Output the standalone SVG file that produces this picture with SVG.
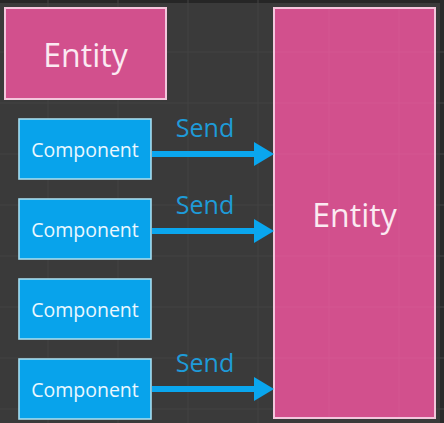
<svg xmlns="http://www.w3.org/2000/svg" width="444" height="423" viewBox="0 0 444 423">
  <style>
    .grid line { stroke: #424242; stroke-width: 1; }
    .entity rect { fill: #d2508d; stroke: #f3c6dc; stroke-width: 2; }
    .entity text { fill: #fbeaf2; font-family: "Open Sans", "Noto Sans", sans-serif; font-size: 32px; text-anchor: middle; }
    .comp rect { fill: #08a3eb; stroke: #a6dcef; stroke-width: 1.6; }
    .comp text { fill: #eaf8ff; font-family: "Open Sans", "Noto Sans", sans-serif; font-size: 19.5px; text-anchor: middle; }
    .conn line { stroke: #0aa6ee; stroke-width: 6; }
    .conn text { fill: #1e9bd8; font-family: "Open Sans", "Noto Sans", sans-serif; font-size: 25px; text-anchor: middle; }
  </style>
  <defs>
    <marker id="head" markerUnits="userSpaceOnUse" markerWidth="20" markerHeight="24" refX="0" refY="12" orient="auto">
      <path d="M0,0 L20,12 L0,24 Z" fill="#0aa6ee"/>
    </marker>
  </defs>
  <rect x="0" y="0" width="444" height="423" fill="#3a3a3a"/>
  <rect x="0" y="0" width="444" height="3" fill="#262626"/>
  <rect x="440" y="0" width="4" height="423" fill="#2a2a2a"/>
  <g class="grid">
    <line x1="48" y1="0" x2="48" y2="423"/>
    <line x1="118" y1="0" x2="118" y2="423"/>
    <line x1="188" y1="0" x2="188" y2="423"/>
    <line x1="258" y1="0" x2="258" y2="423"/>
    <line x1="0" y1="52" x2="444" y2="52"/>
    <line x1="0" y1="103" x2="444" y2="103"/>
    <line x1="0" y1="154" x2="444" y2="154"/>
    <line x1="0" y1="205" x2="444" y2="205"/>
    <line x1="0" y1="256" x2="444" y2="256"/>
    <line x1="0" y1="307" x2="444" y2="307"/>
    <line x1="0" y1="358" x2="444" y2="358"/>
    <line x1="0" y1="409" x2="444" y2="409"/>
  </g>
  <g id="entity-small" class="entity">
    <rect x="5" y="8" width="161" height="91"/>
    <text x="85.5" y="67">Entity</text>
  </g>
  <g id="entity-big" class="entity">
    <rect x="274" y="8" width="161" height="410"/>
    <g stroke="#d9669b" stroke-width="1" opacity="0.35">
      <line x1="329" y1="9" x2="329" y2="417"/>
      <line x1="399" y1="9" x2="399" y2="417"/>
      <line x1="275" y1="52" x2="434" y2="52"/>
      <line x1="275" y1="103" x2="434" y2="103"/>
      <line x1="275" y1="154" x2="434" y2="154"/>
      <line x1="275" y1="256" x2="434" y2="256"/>
      <line x1="275" y1="307" x2="434" y2="307"/>
      <line x1="275" y1="358" x2="434" y2="358"/>
    </g>
    <text x="354.5" y="227">Entity</text>
  </g>
  <g id="component-1" class="comp">
    <rect x="19" y="119" width="132" height="60"/>
    <text x="85" y="157">Component</text>
  </g>
  <g id="component-2" class="comp">
    <rect x="19" y="199" width="132" height="60"/>
    <text x="85" y="237">Component</text>
  </g>
  <g id="component-3" class="comp">
    <rect x="19" y="279" width="132" height="60"/>
    <text x="85" y="317">Component</text>
  </g>
  <g id="component-4" class="comp">
    <rect x="19" y="359" width="132" height="60"/>
    <text x="85" y="397">Component</text>
  </g>
  <g id="connectors" class="conn">
    <line x1="152" y1="154" x2="254" y2="154" marker-end="url(#head)"/>
    <text x="205" y="137">Send</text>
    <line x1="152" y1="231" x2="254" y2="231" marker-end="url(#head)"/>
    <text x="205" y="214">Send</text>
    <line x1="152" y1="389" x2="254" y2="389" marker-end="url(#head)"/>
    <text x="205" y="372">Send</text>
  </g>
</svg>
